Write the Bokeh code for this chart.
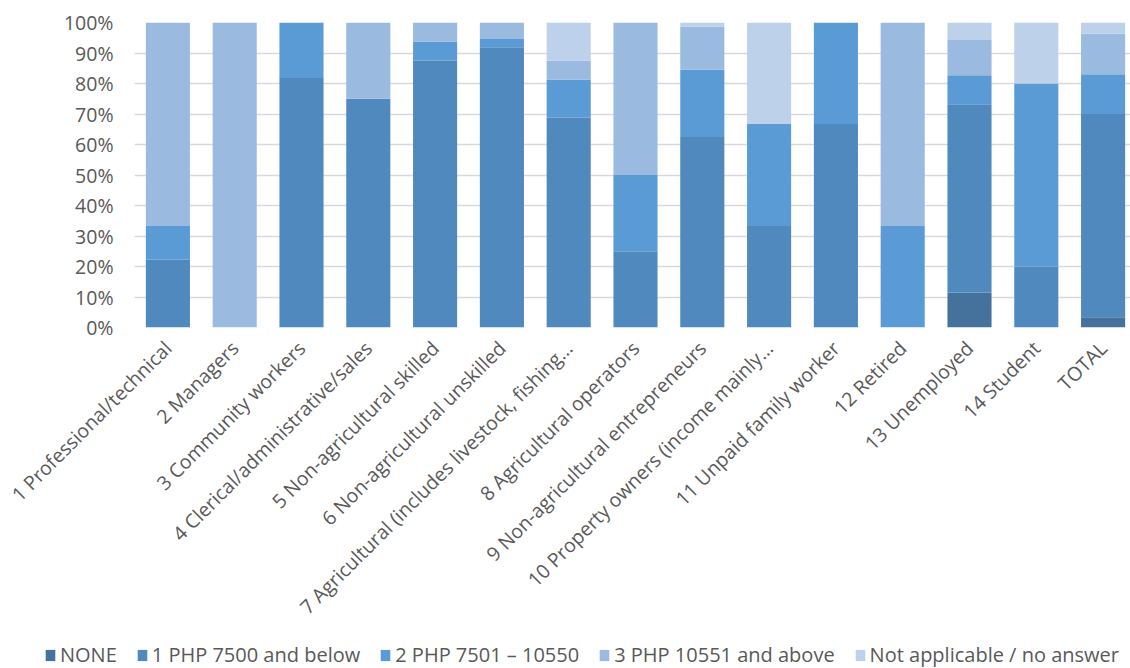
from bokeh.plotting import figure
from bokeh.models import ColumnDataSource, Legend, NumeralTickFormatter, FixedTicker, Range1d
from bokeh.layouts import column
from bokeh.embed import file_html
from bokeh.resources import INLINE
import math

categories = [
    "1 Professional/technical",
    "2 Managers",
    "3 Community workers",
    "4 Clerical/administrative/sales",
    "5 Non-agricultural skilled",
    "6 Non-agricultural unskilled",
    "7 Agricultural (includes livestock, fishing\u2026",
    "8 Agricultural operators",
    "9 Non-agricultural entrepreneurs",
    "10 Property owners (income mainly\u2026",
    "11 Unpaid family worker",
    "12 Retired",
    "13 Unemployed",
    "14 Student",
    "TOTAL",
]

none_ = [0.0, 0.0, 0.0, 0.0, 0.0, 0.0, 0.0, 0.0, 0.0, 0.0, 0.0, 0.0, 11.5, 0.0, 3.4]
php_7500 = [22.2, 0.0, 81.8, 75.0, 87.5, 91.9, 68.75, 25.0, 62.5, 33.3, 66.7, 0.0, 61.7, 20.0, 66.6]
php_10550 = [11.1, 0.0, 18.2, 0.0, 6.25, 2.7, 12.5, 25.0, 22.0, 33.4, 33.3, 33.3, 9.5, 60.0, 13.0]
php_above = [66.7, 100.0, 0.0, 25.0, 6.25, 5.4, 6.25, 50.0, 14.1, 0.0, 0.0, 66.7, 11.6, 0.0, 13.3]
not_applicable = [0.0, 0.0, 0.0, 0.0, 0.0, 0.0, 12.5, 0.0, 1.4, 33.3, 0.0, 0.0, 5.7, 20.0, 3.7]

series_names = ["NONE", "1 PHP 7500 and below", "2 PHP 7501 \u2013 10550",
                "3 PHP 10551 and above", "Not applicable / no answer"]
keys = ["none", "p1", "p2", "p3", "na"]
colors = ["#44729D", "#4F89BD", "#5B9BD5", "#9ABAE0", "#BDD1EB"]

xpos = list(range(len(categories)))
src = ColumnDataSource(dict(x=xpos,
                            none=[v / 100 for v in none_],
                            p1=[v / 100 for v in php_7500],
                            p2=[v / 100 for v in php_10550],
                            p3=[v / 100 for v in php_above],
                            na=[v / 100 for v in not_applicable]))

FONT = "Open Sans"
W = 1130
H_TOTAL = 668
H_LEG = 27
H_MAIN = H_TOTAL - H_LEG
FRAME_LEFT, FRAME_TOP, FRAME_BOTTOM = 134, 22, 327
X_END = -0.5 + (W - FRAME_LEFT) / 66.8

p = figure(x_range=Range1d(-0.5, X_END), y_range=Range1d(0, 1.0), width=W, height=H_MAIN,
           output_backend="svg", toolbar_location=None,
           min_border_left=FRAME_LEFT, min_border_right=0, min_border_top=FRAME_TOP,
           min_border_bottom=H_MAIN - FRAME_BOTTOM)

p.vbar_stack(keys, x="x", width=0.66, color=colors, source=src, line_width=0)

p.outline_line_color = None
p.xgrid.grid_line_color = None
p.ygrid.grid_line_color = "#D9D9D9"
p.ygrid.grid_line_width = 1.5
p.yaxis.ticker = FixedTicker(ticks=[i / 10 for i in range(11)])
p.yaxis.formatter = NumeralTickFormatter(format="0%")
p.xaxis.ticker = FixedTicker(ticks=xpos)
p.xaxis.major_label_overrides = {i: c for i, c in zip(xpos, categories)}
for ax in (p.xaxis, p.yaxis):
    ax.axis_line_color = None
    ax.major_tick_line_color = None
    ax.minor_tick_line_color = None
    ax.major_label_text_font = FONT
    ax.major_label_text_font_size = "19.5px"
    ax.major_label_text_color = "#595959"
p.yaxis.major_label_standoff = 15
p.xaxis.major_label_standoff = 11
p.xaxis.major_label_orientation = math.pi / 4

# legend strip below the chart (swatches reuse the data, kept out of view)
lf = figure(width=W, height=H_LEG, x_range=Range1d(-0.5, X_END), y_range=Range1d(5, 6),
            output_backend="svg", toolbar_location=None,
            min_border_left=0, min_border_right=0, min_border_top=0, min_border_bottom=0)
lf.axis.visible = False
lf.grid.visible = False
lf.outline_line_color = None
swatches = lf.vbar_stack(keys, x="x", width=0.66, color=colors, source=src, line_width=0)
legend = Legend(items=[(n, [r]) for n, r in zip(series_names, swatches)],
                orientation="horizontal", location=(44, 0),
                label_text_font=FONT, label_text_font_size="20px",
                label_text_color="#595959", glyph_width=12, glyph_height=14,
                spacing=19, label_standoff=4, border_line_color=None,
                background_fill_alpha=0, padding=0, margin=0)
lf.add_layout(legend, "center")

layout = column(p, column(lf, spacing=0), spacing=0)
open("out.html", "w").write(file_html(layout, INLINE))
